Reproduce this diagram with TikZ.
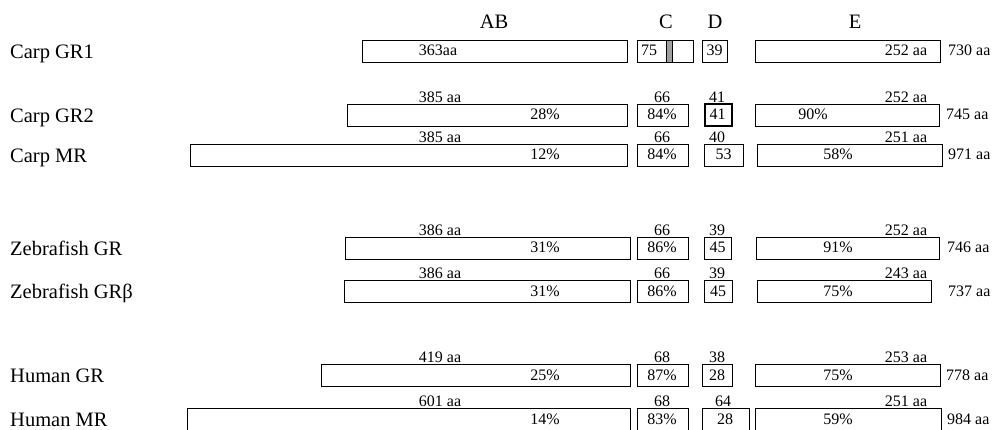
\documentclass[tikz,border=0pt]{standalone}
\usepackage{fontspec}
\setmainfont{Liberation Serif}
\begin{document}
\begin{tikzpicture}[x=1pt, y=-1pt,
    dom/.style={draw, line width=0.9pt, anchor=west, inner sep=0pt, minimum height=22pt},
    num/.style={anchor=base, inner sep=0pt, font=\fontsize{16}{19}\selectfont},
    tot/.style={num, anchor=base west},
    rowname/.style={anchor=base west, inner sep=0pt, font=\fontsize{20.5}{24}\selectfont},
    head/.style={anchor=base, inner sep=0pt, font=\fontsize{20.5}{24}\selectfont}]
    \useasboundingbox (0,0) rectangle (992,429);

    % Domain headers
    \node[head] (hab) at (494,28) {AB};
    \node[head] (hc) at (666,28) {C};
    \node[head] (hd) at (715,28) {D};
    \node[head] (he) at (855,28) {E};

    % Carp GR1
    \begin{scope}[shift={(0,51)}]
        \node[rowname] (cg1) at (10,7) {Carp GR1};
        \node[dom, minimum width=265] (cg1ab) at (362,0) {};
        \node[dom, minimum width=56] (cg1c) at (637,0) {};
        \node[dom, fill=gray!75, minimum width=6] (cg1bar) at (666,0) {};
        \node[dom, minimum width=25] (cg1d) at (702,0) {};
        \node[dom, minimum width=185] (cg1e) at (755,0) {};
        \node[num] (cg1abt) at (438,4.5) {363aa};
        \node[num] (cg1ct) at (649,4.5) {75};
        \node[num] (cg1dt) at (714.5,4.5) {39};
        \node[num] (cg1et) at (906,4.5) {252 aa};
        \node[tot] (cg1tot) at (948,4.5) {730 aa};
    \end{scope}

    % Carp GR2
    \begin{scope}[shift={(0,115)}]
        \node[rowname] (cg2) at (10,7) {Carp GR2};
        \node[dom, minimum width=280] (cg2ab) at (347,0) {};
        \node[dom, minimum width=51] (cg2c) at (637,0) {};
        \node[dom, line width=1.7pt, minimum width=27] (cg2d) at (704,0) {};
        \node[dom, minimum width=184] (cg2e) at (755,0) {};
        \node[num] (cg2abn) at (440,-13) {385 aa};
        \node[num] (cg2cn) at (662,-13) {66};
        \node[num] (cg2dn) at (717,-13) {41};
        \node[num] (cg2en) at (906,-13) {252 aa};
        \node[num] (cg2abt) at (545,4.5) {28\%};
        \node[num] (cg2ct) at (662,4.5) {84\%};
        \node[num] (cg2dt) at (717.5,4.5) {41};
        \node[num] (cg2et) at (813,4.5) {90\%};
        \node[tot] (cg2tot) at (946,4.5) {745 aa};
    \end{scope}

    % Carp MR
    \begin{scope}[shift={(0,155)}]
        \node[rowname] (cmr) at (10,7) {Carp MR};
        \node[dom, minimum width=437] (cmrab) at (190,0) {};
        \node[dom, minimum width=51] (cmrc) at (637,0) {};
        \node[dom, minimum width=39] (cmrd) at (704,0) {};
        \node[dom, minimum width=185] (cmre) at (757,0) {};
        \node[num] (cmrabn) at (440,-13) {385 aa};
        \node[num] (cmrcn) at (662,-13) {66};
        \node[num] (cmrdn) at (717,-13) {40};
        \node[num] (cmren) at (906,-13) {251 aa};
        \node[num] (cmrabt) at (545,4.5) {12\%};
        \node[num] (cmrct) at (662,4.5) {84\%};
        \node[num] (cmrdt) at (723.5,4.5) {53};
        \node[num] (cmret) at (838,4.5) {58\%};
        \node[tot] (cmrtot) at (948,4.5) {971 aa};
    \end{scope}

    % Zebrafish GR
    \begin{scope}[shift={(0,248)}]
        \node[rowname] (zgr) at (10,7) {Zebrafish GR};
        \node[dom, minimum width=285] (zgrab) at (345,0) {};
        \node[dom, minimum width=51] (zgrc) at (637,0) {};
        \node[dom, minimum width=27] (zgrd) at (704,0) {};
        \node[dom, minimum width=183] (zgre) at (756,0) {};
        \node[num] (zgrabn) at (440,-13) {386 aa};
        \node[num] (zgrcn) at (662,-13) {66};
        \node[num] (zgrdn) at (717,-13) {39};
        \node[num] (zgren) at (906,-13) {252 aa};
        \node[num] (zgrabt) at (545,4.5) {31\%};
        \node[num] (zgrct) at (662,4.5) {86\%};
        \node[num] (zgrdt) at (717.5,4.5) {45};
        \node[num] (zgret) at (838,4.5) {91\%};
        \node[tot] (zgrtot) at (947,4.5) {746 aa};
    \end{scope}

    % Zebrafish GR beta
    \begin{scope}[shift={(0,291.5)}]
        \node[rowname] (zgrb) at (10,7) {Zebrafish GRβ};
        \node[dom, minimum width=286] (zgrbab) at (344,0) {};
        \node[dom, minimum width=51] (zgrbc) at (637,0) {};
        \node[dom, minimum width=28] (zgrbd) at (704,0) {};
        \node[dom, minimum width=174] (zgrbe) at (757,0) {};
        \node[num] (zgrbabn) at (440,-13) {386 aa};
        \node[num] (zgrbcn) at (662,-13) {66};
        \node[num] (zgrbdn) at (717,-13) {39};
        \node[num] (zgrben) at (906,-13) {243 aa};
        \node[num] (zgrbabt) at (545,4.5) {31\%};
        \node[num] (zgrbct) at (662,4.5) {86\%};
        \node[num] (zgrbdt) at (718,4.5) {45};
        \node[num] (zgrbet) at (838,4.5) {75\%};
        \node[tot] (zgrbtot) at (948,4.5) {737 aa};
    \end{scope}

    % Human GR
    \begin{scope}[shift={(0,375.5)}]
        \node[rowname] (hgr) at (10,7) {Human GR};
        \node[dom, minimum width=309] (hgrab) at (321,0) {};
        \node[dom, minimum width=51] (hgrc) at (637,0) {};
        \node[dom, minimum width=30] (hgrd) at (702,0) {};
        \node[dom, minimum width=185] (hgre) at (755,0) {};
        \node[num] (hgrabn) at (440,-13) {419 aa};
        \node[num] (hgrcn) at (662,-13) {68};
        \node[num] (hgrdn) at (717,-13) {38};
        \node[num] (hgren) at (906,-13) {253 aa};
        \node[num] (hgrabt) at (545,4.5) {25\%};
        \node[num] (hgrct) at (662,4.5) {87\%};
        \node[num] (hgrdt) at (717,4.5) {28};
        \node[num] (hgret) at (838,4.5) {75\%};
        \node[tot] (hgrtot) at (946,4.5) {778 aa};
    \end{scope}

    % Human MR (runs off the bottom edge)
    \begin{scope}[shift={(0,419.5)}]
        \node[rowname] (hmr) at (10,7) {Human MR};
        \node[dom, minimum width=443] (hmrab) at (187,0) {};
        \node[dom, minimum width=51] (hmrc) at (637,0) {};
        \node[dom, minimum width=47] (hmrd) at (702,0) {};
        \node[dom, minimum width=186] (hmre) at (755,0) {};
        \node[num] (hmrabn) at (440,-13) {601 aa};
        \node[num] (hmrcn) at (662,-13) {68};
        \node[num] (hmrdn) at (723,-13) {64};
        \node[num] (hmren) at (906,-13) {251 aa};
        \node[num] (hmrabt) at (545,4.5) {14\%};
        \node[num] (hmrct) at (662,4.5) {83\%};
        \node[num] (hmrdt) at (725,4.5) {28};
        \node[num] (hmret) at (838,4.5) {59\%};
        \node[tot] (hmrtot) at (947,4.5) {984 aa};
    \end{scope}
\end{tikzpicture}
\end{document}
